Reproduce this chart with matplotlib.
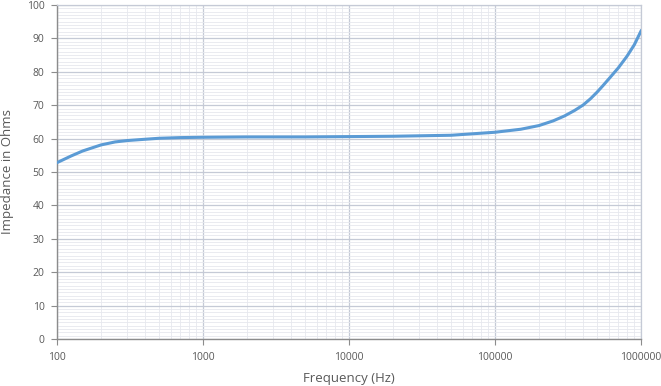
import matplotlib.pyplot as plt
from matplotlib.ticker import MultipleLocator, LogLocator, FixedLocator, NullFormatter

# values
freq = [100, 125, 150, 200, 250, 300, 400, 500, 700, 1000, 2000, 5000, 10000,
        20000, 50000, 100000, 150000, 200000, 250000, 300000, 350000, 400000,
        450000, 500000, 550000, 600000, 700000, 800000, 900000, 1000000]
impedance = [52.8, 54.8, 56.3, 58.1, 59.0, 59.4, 59.8, 60.1, 60.3, 60.4, 60.5,
             60.5, 60.6, 60.7, 61.0, 61.9, 62.8, 63.9, 65.3, 66.8, 68.4, 70.0,
             71.9, 73.9, 75.9, 77.8, 81.2, 84.6, 88.1, 92.2]

x_ticks = [100, 1000, 10000, 100000, 1000000]
x_labels = ['100', '1000', '10000', '100000', '1000000']

plt.rcParams['font.family'] = ['Open Sans', 'DejaVu Sans']

fig = plt.figure(figsize=(6.61, 3.86), dpi=100)
ax = fig.add_axes([57 / 661, 47 / 386, 584 / 661, 334 / 386])

ax.plot(freq, impedance, color='#5b9bd5', linewidth=2.2, zorder=3)

ax.set_xscale('log')
ax.set_xlim(100, 1000000)
ax.set_ylim(0, 100)

ax.xaxis.set_major_locator(FixedLocator(x_ticks))
ax.set_xticklabels(x_labels)
ax.xaxis.set_minor_locator(LogLocator(base=10, subs=range(2, 10), numticks=20))
ax.xaxis.set_minor_formatter(NullFormatter())
ax.yaxis.set_major_locator(MultipleLocator(10))
ax.yaxis.set_minor_locator(MultipleLocator(1))

ax.grid(which='major', color='#c5cad6', linewidth=0.9)
ax.grid(which='minor', color='#e6e8ee', linewidth=0.6)
ax.set_axisbelow(True)

for side in ['top', 'right']:
    ax.spines[side].set_color('#c5cad6')
    ax.spines[side].set_linewidth(0.9)
for side in ['left', 'bottom']:
    ax.spines[side].set_color('#8c8c8c')
    ax.spines[side].set_linewidth(1.0)

ax.tick_params(which='major', length=4, color='#8c8c8c', labelsize=7.5,
               labelcolor='#595959', pad=5)
ax.tick_params(which='minor', length=0)

ax.set_xlabel('Frequency (Hz)', fontsize=9.5, color='#595959', labelpad=7)
ax.set_ylabel('Impedance in Ohms', fontsize=9.5, color='#595959', labelpad=9)

fig.savefig('out.png', dpi=100)
